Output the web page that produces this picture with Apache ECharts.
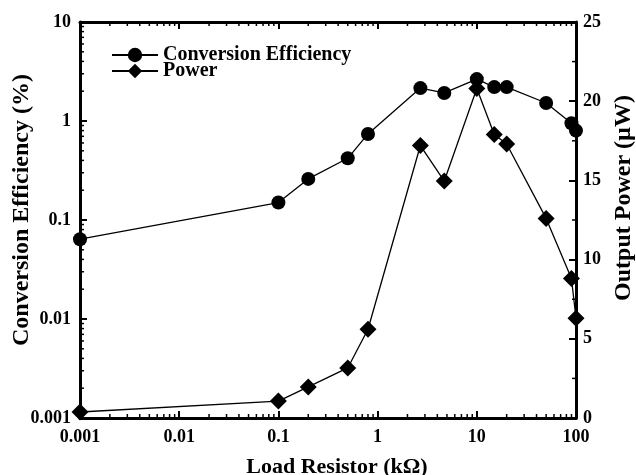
<!DOCTYPE html>
<html>
<head>
<meta charset="utf-8">
<script src="https://cdn.jsdelivr.net/npm/echarts@6/dist/echarts.min.js"></script>
<style>
html,body{margin:0;padding:0;background:#fff;}
#chart{width:636px;height:475px;}
</style>
</head>
<body>
<div id="chart"></div>
<script>
const resistance = [0.001, 0.1, 0.2, 0.5, 0.8, 2.7, 4.7, 10, 15, 20, 50, 90, 100];
const efficiency = [0.064, 0.15, 0.26, 0.42, 0.74, 2.15, 1.92, 2.65, 2.2, 2.2, 1.52, 0.95, 0.8];
const power = [0.38, 1.07, 1.96, 3.16, 5.6, 17.2, 14.96, 20.8, 17.9, 17.3, 12.6, 8.8, 6.3];
const xTickLabels = ['0.001', '0.01', '0.1', '1', '10', '100'];
const yLeftTickLabels = ['0.001', '0.01', '0.1', '1', '10'];
const yRightTickLabels = ['0', '5', '10', '15', '20', '25'];

const X_MIN = 0.001, X_MAX = 100, YL_MIN = 0.001, YL_MAX = 10, YR_MIN = 0, YR_MAX = 25;
const FONT = "'Liberation Serif', 'Times New Roman', serif";

function minorLogValues(min, max) {
  const out = [];
  for (let e = Math.round(Math.log10(min)); e < Math.round(Math.log10(max)); e++) {
    for (let m = 2; m <= 9; m++) out.push(m * Math.pow(10, e));
  }
  return out;
}

function logLabel(labels, min) {
  const base = Math.round(Math.log10(min));
  return v => labels[Math.round(Math.log10(v)) - base] || '';
}

const tickStyle = {color: '#000', width: 2};
const labelStyle = {color: '#000', fontFamily: FONT, fontWeight: 'bold', fontSize: 18};
const axisLineStyle = {show: true, onZero: false, lineStyle: {color: '#000', width: 3}};

const chart = echarts.init(document.getElementById('chart'), null, {renderer: 'canvas'});
chart.setOption({
  animation: false,
  backgroundColor: '#fff',
  grid: {left: 80, right: 60, top: 22, bottom: 57, containLabel: false, outerBoundsMode: 'none'},
  legend: {
    data: ['Conversion Efficiency', 'Power'],
    orient: 'vertical',
    left: 111,
    top: 45,
    padding: 0,
    itemWidth: 46,
    itemHeight: 18,
    itemGap: -4,
    textStyle: {color: '#000', fontFamily: FONT, fontWeight: 'bold', fontSize: 20}
  },
  xAxis: [{
    type: 'log', logBase: 10, min: X_MIN, max: X_MAX, splitNumber: 5,
    position: 'bottom',
    name: 'Load Resistor (k\u03A9)', nameLocation: 'middle', nameGap: 38, nameMoveOverlap: false,
    nameTextStyle: {color: '#000', fontFamily: FONT, fontWeight: 'bold', fontSize: 22, padding: [0, 0, 0, 18]},
    axisLine: axisLineStyle,
    axisTick: {show: true, inside: true, length: 7, lineStyle: tickStyle},
    axisLabel: Object.assign({margin: 10, formatter: logLabel(xTickLabels, X_MIN)}, labelStyle),
    splitLine: {show: false}
  }, {
    type: 'log', logBase: 10, min: X_MIN, max: X_MAX, splitNumber: 5,
    position: 'top',
    axisLine: axisLineStyle,
    axisTick: {show: true, inside: true, length: 7, lineStyle: tickStyle},
    axisLabel: {show: false},
    splitLine: {show: false}
  }],
  yAxis: [{
    type: 'log', logBase: 10, min: YL_MIN, max: YL_MAX, splitNumber: 4,
    position: 'left',
    name: 'Conversion Efficiency (%)', nameLocation: 'middle', nameGap: 46, nameRotate: 90, nameMoveOverlap: false,
    nameTextStyle: {color: '#000', fontFamily: FONT, fontWeight: 'bold', fontSize: 24, padding: [0, 0, 0, 20]},
    axisLine: axisLineStyle,
    axisTick: {show: true, inside: true, length: 7, lineStyle: tickStyle},
    axisLabel: Object.assign({margin: 9, formatter: logLabel(yLeftTickLabels, YL_MIN)}, labelStyle),
    splitLine: {show: false}
  }, {
    type: 'value', min: YR_MIN, max: YR_MAX, interval: 5,
    position: 'right',
    name: 'Output Power (\u00B5W)', nameLocation: 'middle', nameGap: 36, nameRotate: 90, nameMoveOverlap: false,
    nameTextStyle: {color: '#000', fontFamily: FONT, fontWeight: 'bold', fontSize: 24, padding: [0, 0, 0, 44]},
    axisLine: axisLineStyle,
    axisTick: {show: true, inside: true, length: 7, lineStyle: tickStyle},
    axisLabel: Object.assign({margin: 7, formatter: v => yRightTickLabels[Math.round(v / 5)]}, labelStyle),
    splitLine: {show: false}
  }],
  series: [{
    name: 'Conversion Efficiency',
    type: 'line',
    xAxisIndex: 0, yAxisIndex: 0,
    data: resistance.map((x, i) => [x, efficiency[i]]),
    symbol: 'circle', symbolSize: 14,
    lineStyle: {color: '#000', width: 1.3},
    itemStyle: {color: '#000'},
    z: 3
  }, {
    name: 'Power',
    type: 'line',
    xAxisIndex: 0, yAxisIndex: 1,
    data: resistance.map((x, i) => [x, power[i]]),
    symbol: 'diamond', symbolSize: 17,
    lineStyle: {color: '#000', width: 1.3},
    itemStyle: {color: '#000'},
    z: 3
  }]
});

// Minor ticks placed through the library's own axis scales
const minorLines = [];
const st = {stroke: '#000', lineWidth: 1.5};
const toPxL = p => chart.convertToPixel({xAxisIndex: 0, yAxisIndex: 0}, p);
const toPxR = p => chart.convertToPixel({xAxisIndex: 0, yAxisIndex: 1}, p);
minorLogValues(X_MIN, X_MAX).forEach(v => {
  const b = toPxL([v, YL_MIN]);
  const t = toPxL([v, YL_MAX]);
  minorLines.push({type: 'line', silent: true, z: 100, shape: {x1: b[0], y1: b[1], x2: b[0], y2: b[1] - 4}, style: st});
  minorLines.push({type: 'line', silent: true, z: 100, shape: {x1: t[0], y1: t[1], x2: t[0], y2: t[1] + 4}, style: st});
});
minorLogValues(YL_MIN, YL_MAX).forEach(v => {
  const p = toPxL([X_MIN, v]);
  minorLines.push({type: 'line', silent: true, z: 100, shape: {x1: p[0], y1: p[1], x2: p[0] + 4, y2: p[1]}, style: st});
});
for (let v = 2.5; v < YR_MAX; v += 5) {
  const p = toPxR([X_MAX, v]);
  minorLines.push({type: 'line', silent: true, z: 100, shape: {x1: p[0], y1: p[1], x2: p[0] - 4, y2: p[1]}, style: st});
}
chart.setOption({graphic: minorLines});
</script>
</body>
</html>
